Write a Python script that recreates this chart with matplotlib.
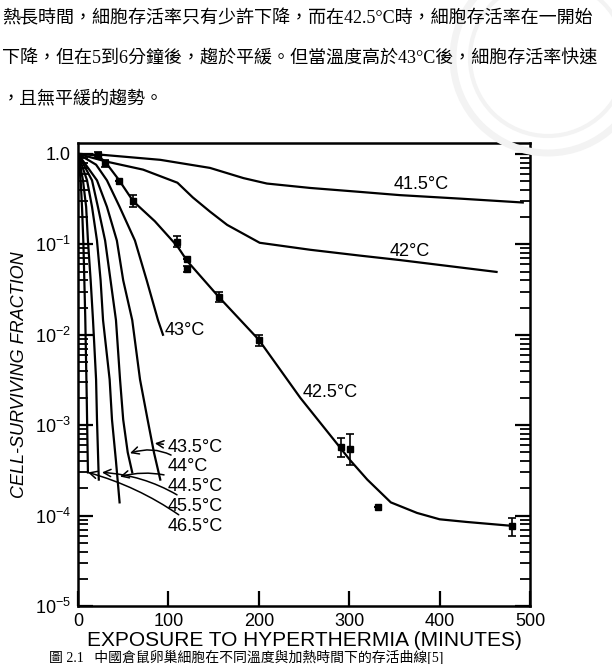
import matplotlib.pyplot as plt
from matplotlib.patches import Circle
from matplotlib.ticker import LogLocator, NullLocator, NullFormatter

plt.rcParams['font.family'] = ['Liberation Sans', 'DejaVu Sans']
plt.rcParams['mathtext.default'] = 'regular'

# survival curves (minutes, surviving fraction)
t_415 = [0, 28, 91, 146, 183, 209, 257, 312, 356, 423, 492]
s_415 = [1.0, 0.975, 0.86, 0.70, 0.54, 0.47, 0.42, 0.38, 0.35, 0.32, 0.29]

t_42 = [0, 32, 72, 110, 127, 146, 165, 201, 257, 312, 356, 463]
s_42 = [1.0, 0.82, 0.67, 0.48, 0.33, 0.23, 0.164, 0.104, 0.087, 0.075, 0.067, 0.0495]

t_425 = [0, 10, 22, 30, 45, 61, 85, 110, 121, 156, 200, 246, 283, 301, 320, 346, 375, 400, 430, 480]
s_425 = [1.0, 0.99, 0.95, 0.82, 0.52, 0.30, 0.18, 0.095, 0.065, 0.026, 0.0088, 0.002,
         6.9e-4, 4.1e-4, 2.5e-4, 1.4e-4, 1.07e-4, 9.1e-5, 8.5e-5, 7.7e-5]

t_43 = [0, 20, 32, 46, 63, 76, 88.5, 94]
s_43 = [1.0, 0.76, 0.51, 0.26, 0.11, 0.04, 0.0145, 0.01]

t_435 = [0, 21, 32, 43, 50, 60, 68.6, 77, 84, 91]
s_435 = [1.0, 0.51, 0.26, 0.11, 0.04, 0.0145, 0.0032, 0.00115, 5e-4, 2.5e-4]

t_44 = [0, 15.5, 22, 30, 36, 42, 46.5, 50, 55, 60]
s_44 = [1.0, 0.51, 0.26, 0.11, 0.04, 0.0145, 0.0032, 0.00115, 5e-4, 3e-4]

t_445 = [0, 10, 15.5, 21, 25, 27.7, 35, 37.6, 42, 46]
s_445 = [1.0, 0.51, 0.26, 0.11, 0.04, 0.0145, 0.0032, 0.00115, 4e-4, 1.4e-4]

t_455 = [0, 5.5, 9, 11, 14, 16.6, 20, 21, 23]
s_455 = [1.0, 0.51, 0.26, 0.11, 0.04, 0.0145, 0.0032, 0.00115, 2.5e-4]

t_465 = [0, 3, 4.5, 6, 8, 9.5, 11]
s_465 = [1.0, 0.5, 0.25, 0.1, 0.016, 0.0025, 3.0e-4]

# measured points at 42.5 C with error bars
pt_t = [22, 30, 45, 61, 110, 121, 121, 156, 200, 291, 301, 332, 480]
pt_s = [0.97, 0.8, 0.5, 0.3, 0.106, 0.069, 0.053, 0.026, 0.0088, 5.7e-4, 5.5e-4, 1.25e-4, 7.7e-5]
pt_lo = [0.92, 0.72, 0.5, 0.26, 0.094, 0.069, 0.049, 0.023, 0.0075, 4.5e-4, 3.6e-4, 1.25e-4, 5.9e-5]
pt_hi = [1.04, 0.86, 0.5, 0.35, 0.124, 0.069, 0.058, 0.030, 0.010, 7.2e-4, 7.9e-4, 1.25e-4, 9.4e-5]

y_ticks = [1.0, 1e-1, 1e-2, 1e-3, 1e-4, 1e-5]
y_ticklabels = ['1.0', '$10^{-1}$', '$10^{-2}$', '$10^{-3}$', '$10^{-4}$', '$10^{-5}$']
x_ticks = [0, 100, 200, 300, 400, 500]

text_lines = [
    '熱長時間，細胞存活率只有少許下降，而在42.5°C時，細胞存活率在一開始',
    '下降，但在5到6分鐘後，趨於平緩。但當溫度高於43°C後，細胞存活率快速',
    '，且無平緩的趨勢。',
]
caption = '圖 2.1   中國倉鼠卵巢細胞在不同溫度與加熱時間下的存活曲線[5]'

fig = plt.figure(figsize=(6.12, 6.64), dpi=100)

# very faint seal watermark at the top right
for r, w in [(95, 5), (78, 3)]:
    fig.patches.append(Circle((548, 664 - 58), r, transform=None, fill=False,
                              ec='#f3f3f3', lw=w, zorder=0))

cjk = ['Liberation Serif', 'Noto Sans CJK TC']
for i, line in enumerate(text_lines):
    fig.text(0.003, 1 - (19 + 40 * i) / 664, line, family=cjk, fontsize=13,
             va='center', ha='left')
fig.text(0.08, 1 - 657 / 664, caption, family=cjk, fontsize=10, va='center', ha='left')

ax = fig.add_axes([78 / 612, 58 / 664, 452 / 612, 463 / 664])
lw = 1.6
for t, s in [(t_415, s_415), (t_42, s_42), (t_425, s_425), (t_43, s_43), (t_435, s_435),
             (t_44, s_44), (t_445, s_445), (t_455, s_455), (t_465, s_465)]:
    ax.plot(t, s, color='black', lw=lw, solid_joinstyle='round')

yerr = [[s - lo for s, lo in zip(pt_s, pt_lo)], [hi - s for s, hi in zip(pt_s, pt_hi)]]
ax.errorbar(pt_t, pt_s, yerr=yerr, fmt='s', color='black', ms=4, capsize=3,
            elinewidth=1.2, capthick=1.2)

ax.set_yscale('log')
ax.set_xlim(0, 500)
ax.set_ylim(1e-5, 1.32)

fs = 13
ax.text(380, 0.454, '41.5°C', fontsize=fs, ha='center', va='center')
ax.text(367, 0.0824, '42°C', fontsize=fs, ha='center', va='center')
ax.text(96, 0.011, '43°C', fontsize=fs, ha='left', va='center')
ax.text(248, 0.0023, '42.5°C', fontsize=fs, ha='left', va='center')

arrow = dict(arrowstyle='->', color='black', lw=1.1, shrinkA=1, shrinkB=0)
for lab, tip, pos, rad in [
    ('43.5°C', (85, 6.3e-4), (99, 5.6e-4), 0.0),
    ('44°C', (57.5, 4.9e-4), (99, 3.45e-4), 0.3),
    ('44.5°C', (46.5, 2.7e-4), (99, 2.1e-4), 0.2),
    ('45.5°C', (26.5, 3.0e-4), (99, 1.25e-4), 0.15),
    ('46.5°C', (11, 3.0e-4), (99, 7.5e-5), 0.1),
]:
    ax.annotate(lab, xy=tip, xytext=pos, fontsize=fs, ha='left', va='center',
                arrowprops=dict(arrow, connectionstyle='arc3,rad=%s' % rad))

ax.set_yticks(y_ticks)
ax.set_yticklabels(y_ticklabels)
ax.yaxis.set_minor_locator(LogLocator(base=10, subs=range(2, 10)))
ax.yaxis.set_minor_formatter(NullFormatter())
ax.set_xticks(x_ticks)
ax.xaxis.set_minor_locator(NullLocator())
ax.tick_params(which='major', direction='in', length=11, width=1.6, labelsize=fs,
               left=True, right=True, top=False, pad=5)
ax.tick_params(which='minor', direction='in', length=7, width=1.3, left=True, right=True)

for sp in ax.spines.values():
    sp.set_linewidth(1.8)

ax.set_xlabel('EXPOSURE TO HYPERTHERMIA (MINUTES)', fontsize=15, labelpad=1)
ax.set_ylabel('CELL-SURVIVING FRACTION', fontsize=13, style='italic', labelpad=5)

fig.savefig('out.png', dpi=100)
